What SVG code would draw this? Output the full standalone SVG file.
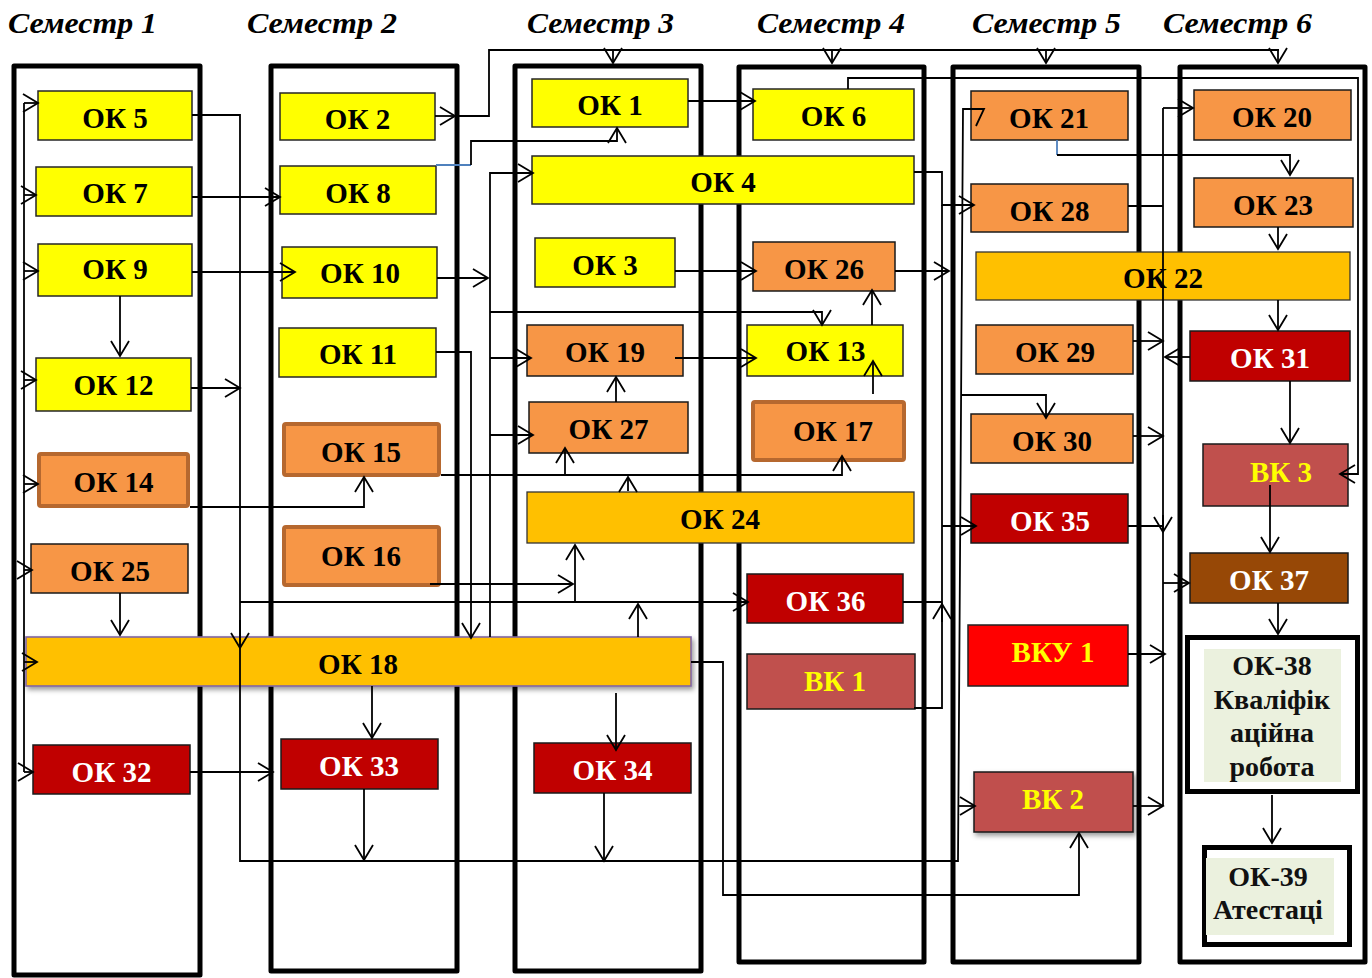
<svg xmlns="http://www.w3.org/2000/svg" width="1372" height="978" viewBox="0 0 1372 978">
<defs>
<style>
.col{fill:none;stroke:#000;stroke-width:5;stroke-linejoin:round}
.c path{fill:none;stroke:#000;stroke-width:1.8}
.c path.a{marker-end:url(#arr)}
.c path.blue{stroke:#4F81BD}
.hdr{font-family:"Liberation Serif","Times New Roman",serif;font-weight:bold;font-style:italic;font-size:30px;fill:#000}
.t{font-family:"Liberation Serif","Times New Roman",serif;font-weight:bold;font-size:29px;text-anchor:middle;fill:#000}
.t2{font-family:"Liberation Serif","Times New Roman",serif;font-weight:bold;font-size:28px;text-anchor:middle;fill:#111}
.w{fill:#fff}
.yl{fill:#FFFF00}
.y{fill:#FFFF00;stroke:#262626;stroke-width:1.5}
.o{fill:#F79646;stroke:#1a1a1a;stroke-width:1.5}
.ot{fill:#F79646;stroke:#B6682F;stroke-width:4}
.g{fill:#FFC000;stroke:#333;stroke-width:1.3}
.r{fill:#C00000;stroke:#1a1a1a;stroke-width:1.5}
.v{fill:#C0504D;stroke:#1a1a1a;stroke-width:1.5}
.rr{fill:#FF0000;stroke:#222;stroke-width:1.5}
.br{fill:#974806;stroke:#1a1a1a;stroke-width:1.5}
.box{fill:#fff;stroke:#000;stroke-width:5}
.bg{fill:#EBF1DE}
</style>
<marker id="arr" viewBox="-16 -11 18 22" refX="0" refY="0" markerWidth="18" markerHeight="22" markerUnits="userSpaceOnUse" orient="auto" overflow="visible">
<path d="M-15,-9 L0,0 L-15,9" fill="none" stroke="#000" stroke-width="1.8"/>
</marker>
<filter id="sh" x="-10%" y="-20%" width="120%" height="160%">
<feDropShadow dx="2" dy="3" stdDeviation="2.5" flood-color="#000" flood-opacity="0.4"/>
</filter>
<clipPath id="clip38"><rect x="1204" y="649" width="137" height="133"/></clipPath>
</defs>
<rect width="1372" height="978" fill="#fff"/>

<g id="headers">
<text class="hdr" x="8" y="33" textLength="149" lengthAdjust="spacingAndGlyphs">Семестр 1</text>
<text class="hdr" x="247" y="33" textLength="150" lengthAdjust="spacingAndGlyphs">Семестр 2</text>
<text class="hdr" x="527" y="33" textLength="147" lengthAdjust="spacingAndGlyphs">Семестр 3</text>
<text class="hdr" x="757" y="33" textLength="148" lengthAdjust="spacingAndGlyphs">Семестр 4</text>
<text class="hdr" x="972" y="33" textLength="149" lengthAdjust="spacingAndGlyphs">Семестр 5</text>
<text class="hdr" x="1163" y="33" textLength="149" lengthAdjust="spacingAndGlyphs">Семестр 6</text>
</g>

<g id="columns">
<rect class="col" x="14" y="66" width="186" height="909"/>
<rect class="col" x="271" y="66" width="186" height="905"/>
<rect class="col" x="515" y="66" width="186" height="905"/>
<rect class="col" x="739" y="67" width="185" height="895"/>
<rect class="col" x="953" y="67" width="186" height="895"/>
<rect class="col" x="1180" y="67" width="185" height="895"/>
</g>

<g id="ok5"><rect class="y" x="38" y="91" width="154" height="49"/><text class="t" x="115" y="128">ОК 5</text></g>
<g id="ok7"><rect class="y" x="36" y="167" width="156" height="49"/><text class="t" x="115" y="203">ОК 7</text></g>
<g id="ok9"><rect class="y" x="38" y="244" width="154" height="52"/><text class="t" x="115" y="279">ОК 9</text></g>
<g id="ok12"><rect class="y" x="36" y="358" width="155" height="53"/><text class="t" x="113.5" y="395">ОК 12</text></g>
<g id="ok14"><rect class="ot" x="39" y="454" width="149" height="52" rx="2"/><text class="t" x="113.5" y="492">ОК 14</text></g>
<g id="ok25"><rect class="o" x="31" y="544" width="157" height="49"/><text class="t" x="110" y="581">ОК 25</text></g>
<g id="ok18"><rect class="g" x="26" y="637" width="665" height="49" style="stroke:#8064A2;stroke-width:1.6" filter="url(#sh)"/><text class="t" x="358" y="674">ОК 18</text></g>
<g id="ok32"><rect class="r" x="33" y="745" width="157" height="49"/><text class="t w" x="111.5" y="782">ОК 32</text></g>

<g id="ok2"><rect class="y" x="280" y="93" width="155" height="47"/><text class="t" x="357.5" y="129">ОК 2</text></g>
<g id="ok8"><rect class="y" x="280" y="166" width="156" height="48"/><text class="t" x="358" y="203">ОК 8</text></g>
<g id="ok10"><rect class="y" x="282" y="247" width="155" height="51"/><text class="t" x="360" y="283">ОК 10</text></g>
<g id="ok11"><rect class="y" x="279" y="328" width="157" height="49"/><text class="t" x="358" y="364">ОК 11</text></g>
<g id="ok15"><rect class="ot" x="284" y="424" width="155" height="51" rx="2"/><text class="t" x="361" y="462">ОК 15</text></g>
<g id="ok16"><rect class="ot" x="284" y="527" width="155" height="58" rx="2"/><text class="t" x="361" y="566">ОК 16</text></g>
<g id="ok33"><rect class="r" x="281" y="739" width="157" height="50"/><text class="t w" x="359" y="776">ОК 33</text></g>

<g id="ok1"><rect class="y" x="532" y="79" width="156" height="48"/><text class="t" x="610" y="115">ОК 1</text></g>
<g id="ok4"><rect class="y" x="532" y="156" width="382" height="48"/><text class="t" x="723" y="192">ОК 4</text></g>
<g id="ok3"><rect class="y" x="535" y="238" width="140" height="49"/><text class="t" x="605" y="275">ОК 3</text></g>
<g id="ok19"><rect class="o" x="527" y="325" width="156" height="51"/><text class="t" x="605" y="362">ОК 19</text></g>
<g id="ok27"><rect class="o" x="529" y="402" width="159" height="51"/><text class="t" x="608.5" y="439">ОК 27</text></g>
<g id="ok24"><rect class="g" x="527" y="492" width="387" height="51"/><text class="t" x="720" y="529">ОК 24</text></g>
<g id="ok34"><rect class="r" x="534" y="743" width="157" height="50"/><text class="t w" x="612.5" y="780">ОК 34</text></g>

<g id="ok6"><rect class="y" x="753" y="89" width="161" height="51"/><text class="t" x="833.5" y="126">ОК 6</text></g>
<g id="ok26"><rect class="o" x="753" y="242" width="142" height="49"/><text class="t" x="824" y="279">ОК 26</text></g>
<g id="ok13"><rect class="y" x="747" y="325" width="156" height="51"/><text class="t" x="825.5" y="361">ОК 13</text></g>
<g id="ok17"><rect class="ot" x="753" y="402" width="151" height="58" rx="2"/><text class="t" x="833" y="441">ОК 17</text></g>
<g id="ok36"><rect class="r" x="747" y="574" width="156" height="49"/><text class="t w" x="825.5" y="611">ОК 36</text></g>
<g id="vk1"><rect class="v" x="747" y="654" width="168" height="55"/><text class="t yl" x="835" y="691">ВК 1</text></g>

<g id="ok21"><rect class="o" x="971" y="91" width="157" height="49"/><text class="t" x="1049" y="128">ОК 21</text></g>
<g id="ok28"><rect class="o" x="971" y="184" width="157" height="48"/><text class="t" x="1049.5" y="221">ОК 28</text></g>
<g id="ok22"><rect class="g" x="976" y="252" width="374" height="48"/><text class="t" x="1163" y="288">ОК 22</text></g>
<g id="ok29"><rect class="o" x="976" y="325" width="157" height="49"/><text class="t" x="1055" y="362">ОК 29</text></g>
<g id="ok30"><rect class="o" x="971" y="414" width="162" height="49"/><text class="t" x="1052" y="451">ОК 30</text></g>
<g id="ok35"><rect class="r" x="971" y="494" width="157" height="49"/><text class="t w" x="1050" y="531">ОК 35</text></g>
<g id="vku1"><rect class="rr" x="968" y="625" width="160" height="61"/><text class="t yl" x="1053" y="662">ВКУ 1</text></g>
<g id="vk2"><rect class="v" x="974" y="772" width="159" height="60" filter="url(#sh)"/><text class="t yl" x="1053" y="809">ВК 2</text></g>

<g id="ok20"><rect class="o" x="1194" y="90" width="157" height="50"/><text class="t" x="1272" y="127">ОК 20</text></g>
<g id="ok23"><rect class="o" x="1194" y="178" width="159" height="49"/><text class="t" x="1273" y="215">ОК 23</text></g>
<g id="ok31"><rect class="r" x="1190" y="331" width="160" height="50"/><text class="t w" x="1270" y="368">ОК 31</text></g>
<g id="vk3"><rect class="v" x="1203" y="444" width="145" height="62"/><text class="t yl" x="1281" y="482">ВК 3</text></g>
<g id="ok37"><rect class="br" x="1190" y="553" width="158" height="50"/><text class="t w" x="1269" y="590">ОК 37</text></g>
<g id="ok38"><rect class="box" x="1187.5" y="637.5" width="170" height="154"/><rect class="bg" x="1204" y="649" width="137" height="133"/>
<g clip-path="url(#clip38)"><text class="t2" x="1272" y="675">ОК-38</text><text class="t2" x="1272" y="709">Кваліфік</text><text class="t2" x="1272" y="742">аційна</text><text class="t2" x="1272" y="776">робота</text></g></g>
<g id="ok39"><rect class="box" x="1204.5" y="847.5" width="145" height="97"/><rect class="bg" x="1206" y="858" width="128" height="77"/><text class="t2" x="1268" y="886">ОК-39</text><text class="t2" x="1268" y="919">Атестаці</text></g>

<g id="connectors" class="c">
<path d="M24,103 V772"/>
<path class="a" d="M24,103 H38"/>
<path class="a" d="M24,195 H36"/>
<path class="a" d="M24,271 H38"/>
<path class="a" d="M24,380 H36"/>
<path class="a" d="M24,484 H38"/>
<path class="a" d="M24,570 H32"/>
<path class="a" d="M24,662 H37"/>
<path class="a" d="M24,772 H33"/>
<path d="M192,115 H240 V861 H958 L963,109 H984 L976,126"/>
<path class="a" d="M240,620 V648"/>
<path class="a" d="M191,388 H240"/>
<path class="a" d="M962,395 H1046 V418"/>
<path class="a" d="M958,806 H975"/>
<path class="a" d="M190,507 H364 V477"/>
<path class="a" d="M240,602 H748"/>
<path class="a" d="M638,637 V604"/>
<path class="a" d="M575,602 V545"/>
<path class="a" d="M430,584 H573"/>
<path class="a" d="M436,352 H471 V638"/>
<path class="a" d="M490,637 V173 H533"/>
<path class="a" d="M490,358 H531"/>
<path class="a" d="M490,435 H533"/>
<path class="a" d="M437,278 H488"/>
<path class="a" d="M490,312 H822 V325"/>
<path class="a" d="M435,116 H455"/>
<path d="M455,116 H489 V50 H1279"/>
<path class="a" d="M613,50 V63"/>
<path class="a" d="M832,50 V63"/>
<path class="a" d="M1046,50 V63"/>
<path class="a" d="M1278,50 V63"/>
<path class="blue" d="M436,165 H471"/>
<path class="a" d="M471,165 V141 H617 V128"/>
<path class="a" d="M688,101 H755"/>
<path class="a" d="M848,89 V78 H1358 V474 H1340"/>
<path class="a" d="M914,172 H942 V205 H974"/>
<path d="M942,205 V708 H914"/>
<path class="a" d="M942,622 V604"/>
<path class="a" d="M895,271 H949"/>
<path class="a" d="M942,526 H976"/>
<path d="M903,602 H942"/>
<path class="a" d="M675,271 H756"/>
<path class="a" d="M872,325 V290"/>
<path class="a" d="M873,394 V361"/>
<path class="a" d="M675,358 H756"/>
<path class="a" d="M616,402 V377"/>
<path class="a" d="M441,475 H842 V456"/>
<path class="a" d="M565,475 V448"/>
<path class="a" d="M628,491 V477"/>
<path class="a" d="M691,662 H723 V895 H1079 V833"/>
<path d="M1128,206 H1163"/>
<path d="M1163,108 V806"/>
<path class="a" d="M1163,108 H1193"/>
<path class="a" d="M1133,341 H1163"/>
<path class="a" d="M1190,357 H1165"/>
<path class="a" d="M1133,436 H1163"/>
<path d="M1128,526 H1163"/>
<path class="a" d="M1163,515 V532"/>
<path class="a" d="M1163,583 H1189"/>
<path class="a" d="M1128,654 H1165"/>
<path class="a" d="M1133,806 H1163"/>
<path class="blue" d="M1057,140 V155"/>
<path class="a" d="M1057,155 H1290 V175"/>
<path class="a" d="M1278,227 V249"/>
<path class="a" d="M1278,300 V330"/>
<path class="a" d="M1290,381 V443"/>
<path class="a" d="M1270,485 V552"/>
<path class="a" d="M1278,603 V634"/>
<path class="a" d="M1272,795 V843"/>
<path class="a" d="M192,197 H280"/>
<path class="a" d="M192,272 H295"/>
<path class="a" d="M120,296 V356"/>
<path class="a" d="M120,593 V635"/>
<path class="a" d="M190,772 H273"/>
<path class="a" d="M372,686 V738"/>
<path class="a" d="M364,789 V860"/>
<path class="a" d="M616,693 V750"/>
<path class="a" d="M604,793 V861"/>
</g>
</svg>
